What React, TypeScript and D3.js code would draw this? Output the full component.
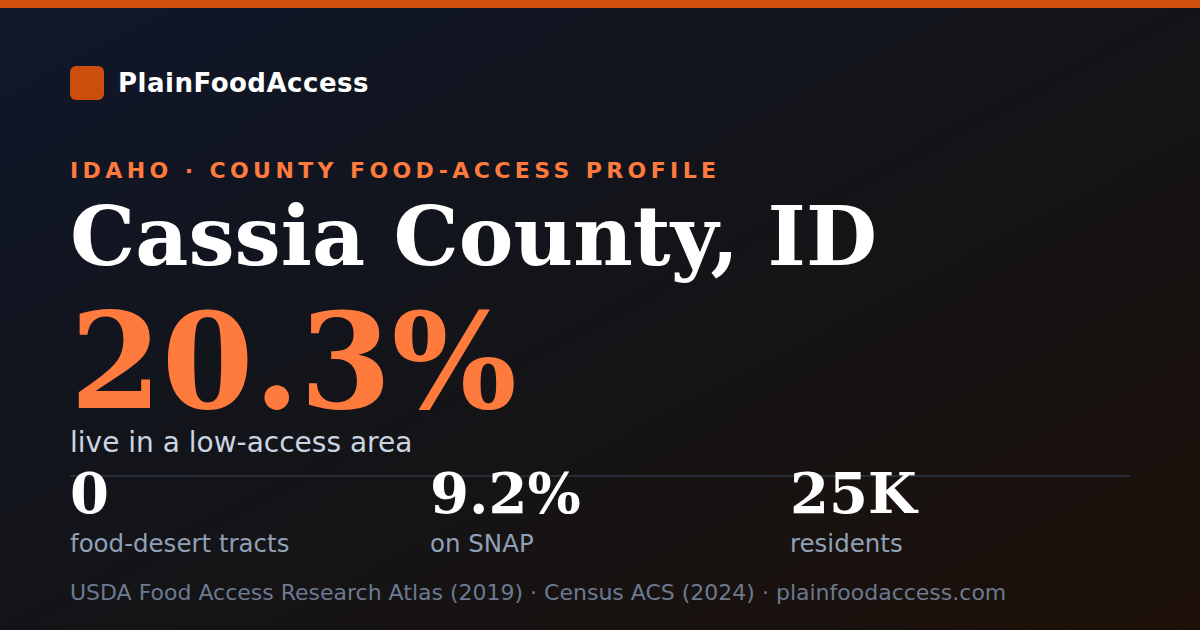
import { useEffect } from "react";
import * as d3 from "d3";

const W = 1200;
const H = 630;

// card content
const brand = "PlainFoodAccess";
const eyebrow = "IDAHO · COUNTY FOOD-ACCESS PROFILE";
const countyName = "Cassia County, ID";
const headlineValue = "20.3%";
const headlineLabel = "live in a low-access area";
const statValues = ["0", "9.2%", "25K"];
const statLabels = ["food-desert tracts", "on SNAP", "residents"];
const sources = ["USDA Food Access Research Atlas (2019)", "Census ACS (2024)", "plainfoodaccess.com"];

const SANS = "'DejaVu Sans', Verdana, sans-serif";
const SERIF = "'DejaVu Serif', Georgia, serif";

export default function App() {
  useEffect(() => {
    document.body.style.margin = "0";
    document.body.style.overflow = "hidden";
  }, []);

  // stat columns sit on a band scale across the content width
  const x = d3
    .scaleBand<string>()
    .domain(statLabels)
    .range([70, 1150])
    .paddingInner(0)
    .align(0);

  return (
    <svg
      width={W}
      height={H}
      style={{ display: "block", position: "fixed", left: 0, top: 0 }}
    >
      <defs>
        <linearGradient id="bg" x1="0" y1="0" x2="1" y2="1">
          <stop offset="0%" stopColor="#0f172a" />
          <stop offset="50%" stopColor="#141418" />
          <stop offset="100%" stopColor="#1c1008" />
        </linearGradient>
      </defs>
      <rect width={W} height={H} fill="url(#bg)" />
      <rect width={W} height={8} fill="#d2500f" />

      {/* brand */}
      <rect x={70} y={66} width={34} height={34} rx={6} fill="#cc4e0c" />
      <text
        x={118}
        y={92}
        fontFamily={SANS}
        fontWeight={700}
        fontSize={26}
        letterSpacing={0.5}
        fill="#ffffff"
      >
        {brand}
      </text>

      <text
        x={70}
        y={178}
        fontFamily={SANS}
        fontWeight={700}
        fontSize={22}
        letterSpacing={4.4}
        fill="#ff7a3d"
      >
        {eyebrow}
      </text>

      <text x={70} y={265} fontFamily={SERIF} fontWeight={700} fontSize={82} fill="#ffffff">
        {countyName}
      </text>

      <text x={70} y={408} fontFamily={SERIF} fontWeight={700} fontSize={132} fill="#ff7a3d">
        {headlineValue}
      </text>

      <text x={70} y={452} fontFamily={SANS} fontSize={28} fill="#cbd5e1">
        {headlineLabel}
      </text>

      <line x1={70} x2={1130} y1={476} y2={476} stroke="#272c37" strokeWidth={2} />

      {statLabels.map((label, i) => (
        <g key={label} transform={`translate(${x(label)},0)`}>
          <text y={513} fontFamily={SERIF} fontWeight={700} fontSize={56} fill="#ffffff">
            {statValues[i]}
          </text>
          <text y={552} fontFamily={SANS} fontSize={24.5} fill="#8fa0b7">
            {label}
          </text>
        </g>
      ))}

      <text x={70} y={600} fontFamily={SANS} fontSize={22} fill="#6b7a90">
        {sources.join(" · ")}
      </text>
    </svg>
  );
}
